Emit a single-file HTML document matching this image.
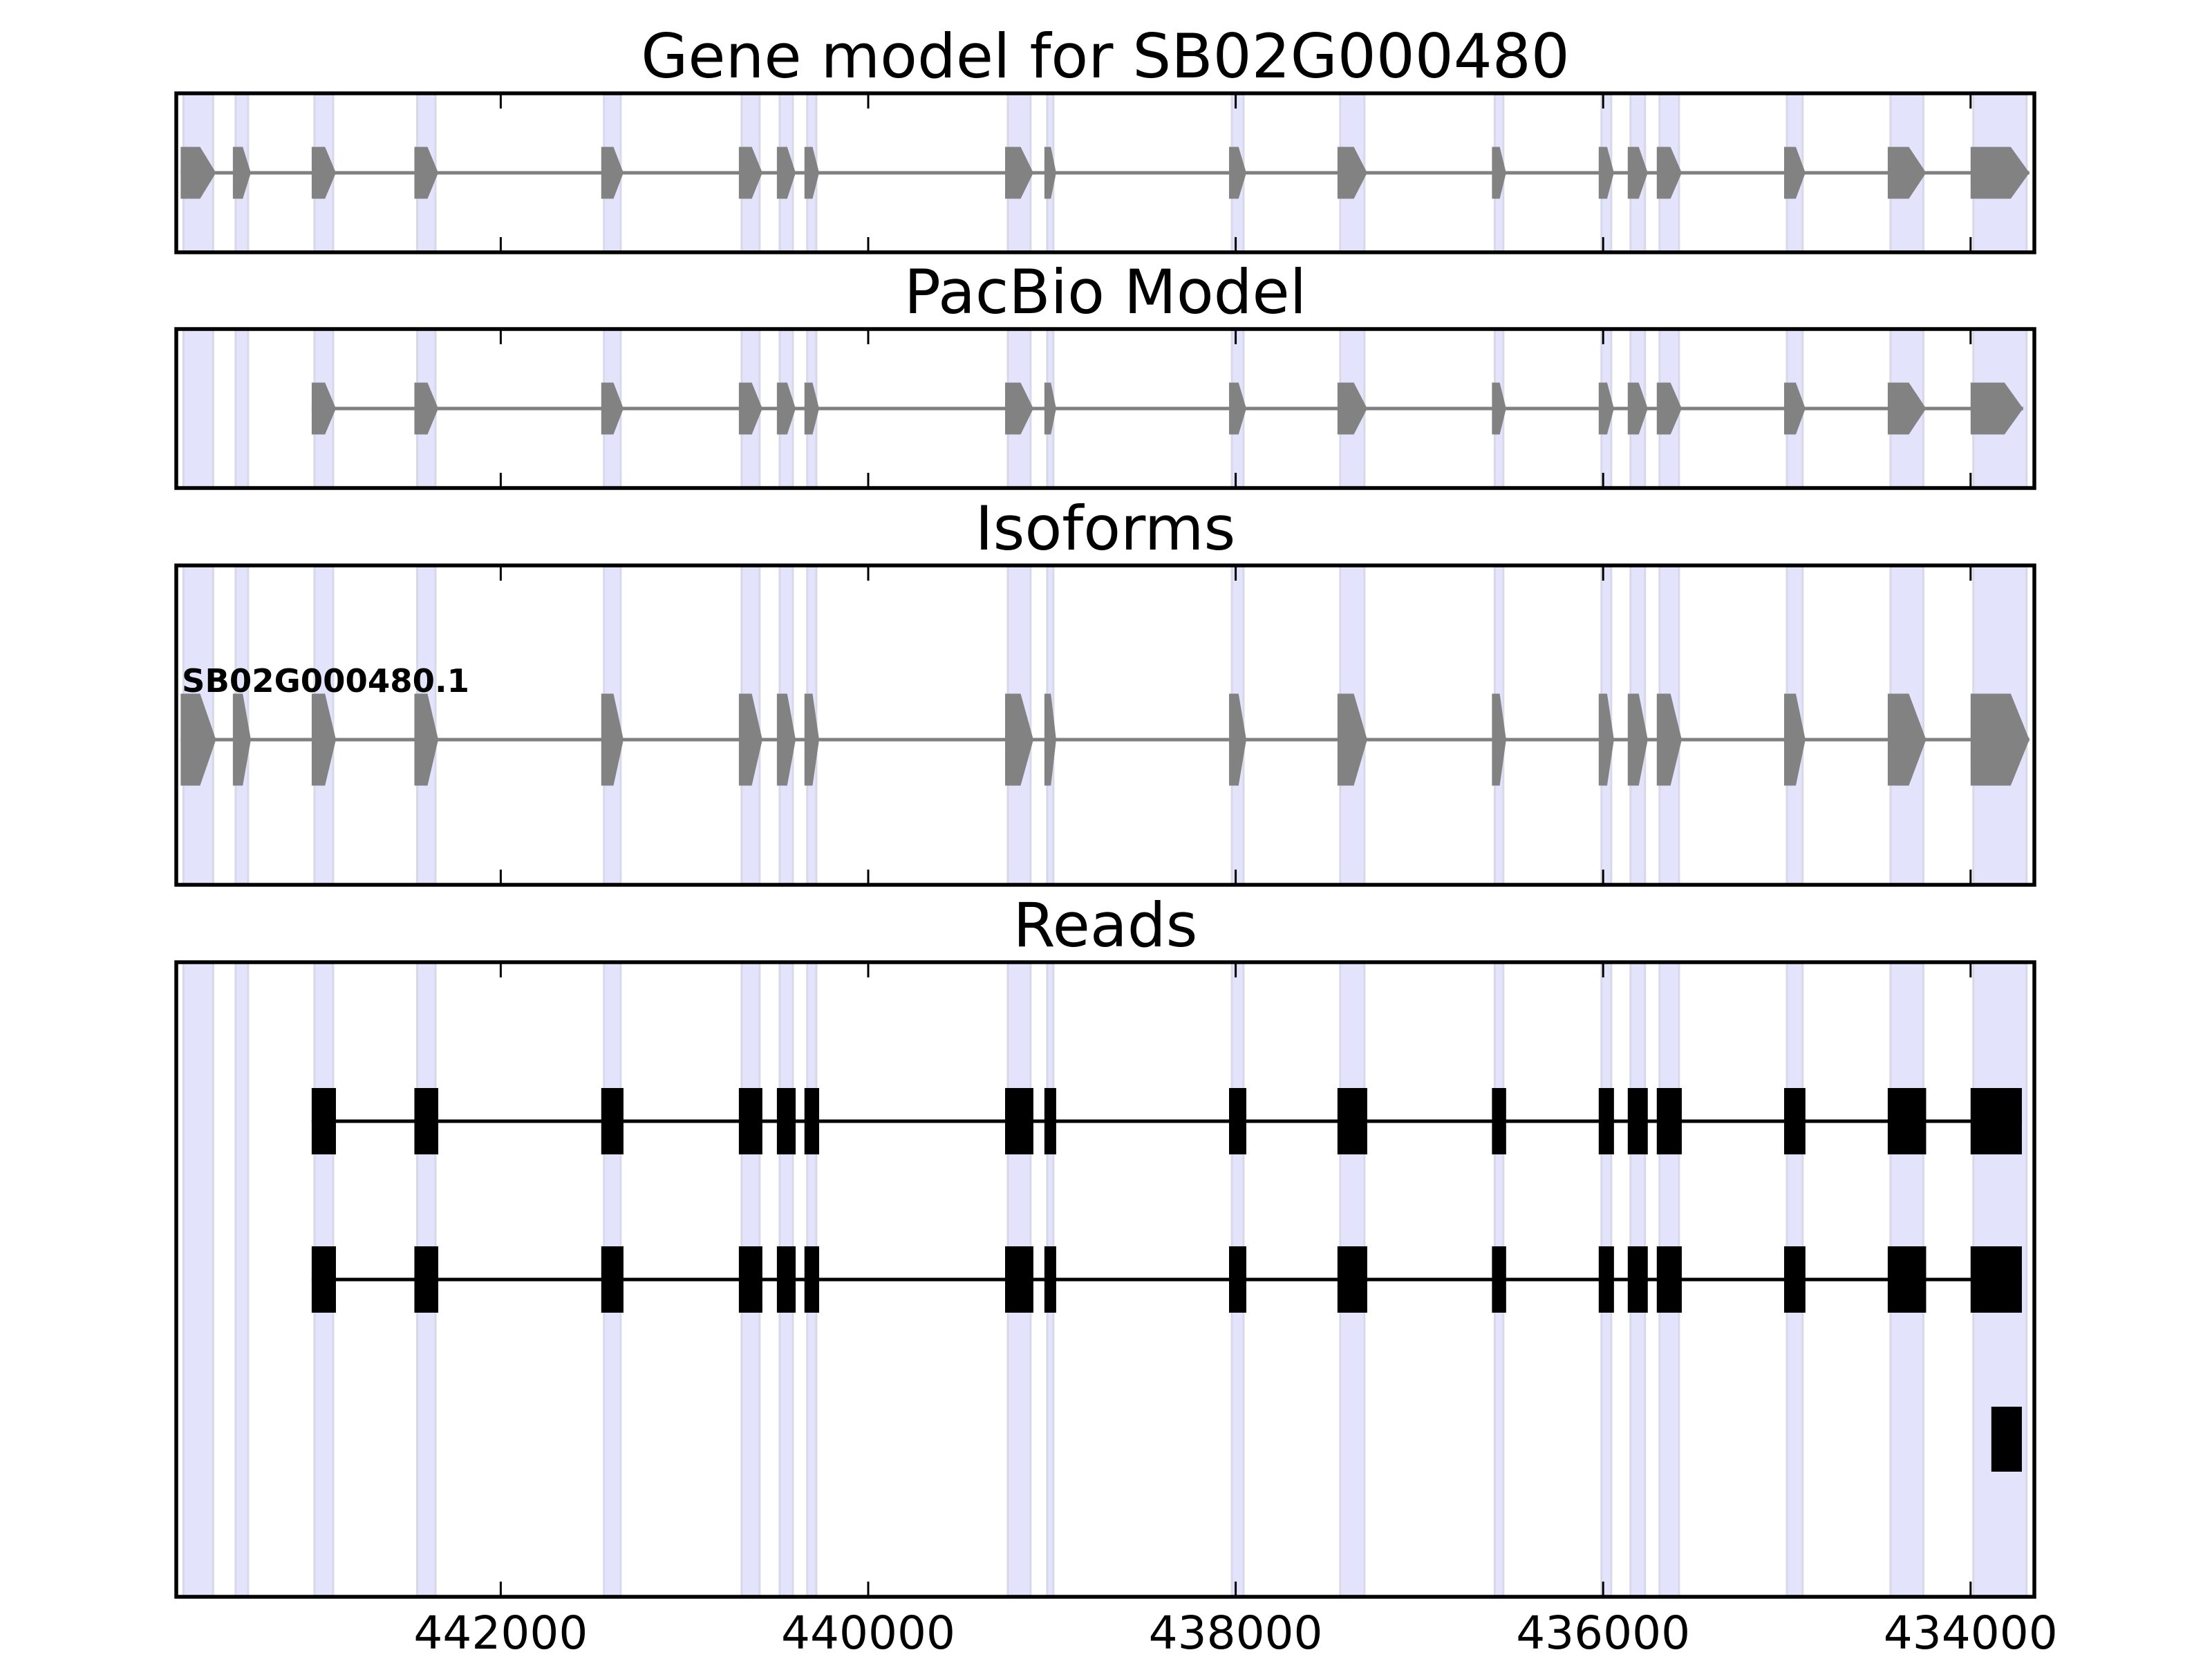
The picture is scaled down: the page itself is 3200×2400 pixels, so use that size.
<!DOCTYPE html>
<html><head><meta charset="utf-8"><style>
html,body{margin:0;padding:0;background:#fff;}
svg{display:block;}
text{font-family:"DejaVu Sans","Liberation Sans",sans-serif;}
</style></head><body>
<svg id="fig" xmlns="http://www.w3.org/2000/svg" width="3200" height="2400" viewBox="0 0 3200 2400">
<rect x="0" y="0" width="3200" height="2400" fill="#fff"/>
</svg>
<script>
// ---- data ----
const exonStarts = [443742,443458,443029,442470,441453,440704,440497,440347,439255,439041,438036,437446,436605,436024,435866,435708,435015,434451,434000];
const exonEnds   = [443550,443360,442897,442340,441332,440576,440395,440267,439101,438977,437942,437284,436528,435941,435757,435572,434899,434242,433680];
const pacbioExonIdx = [2,3,4,5,6,7,8,9,10,11,12,13,14,15,16,17,18];
const pacbioLastEnd = 433714;
const readRows = ["read-1","read-2"];
const readLastEnd = 433721;
const read3Block = [433887,433721];
const tickValues = [442000,440000,438000,436000,434000];
const tickLabels = ["442000","440000","438000","436000","434000"];
const panelTitles = ["Gene model for SB02G000480","PacBio Model","Isoforms","Reads"];
const isoformLabel = "SB02G000480.1";
const xDomain = [443766,433653];

// ---- layout ----
const NS = "http://www.w3.org/2000/svg";
const svg = document.getElementById('fig');
const L = 255, R = 2943;
const panels = [{t:135,b:365},{t:476,b:706},{t:818,b:1280},{t:1392,b:2310}];
function xs(g){ return L + (xDomain[0]-g)*(R-L)/(xDomain[0]-xDomain[1]); }
function mk(tag, attrs, parent){
  const e = document.createElementNS(NS, tag);
  for (const k in attrs) e.setAttribute(k, attrs[k]);
  (parent||svg).appendChild(e);
  return e;
}
function pent(x1, x2, cy, h, fill, parent){
  const w = x2-x1, tip = Math.min(0.45*w, 27);
  const pts = [[x1,cy-h/2],[x2-tip,cy-h/2],[x2,cy],[x2-tip,cy+h/2],[x1,cy+h/2]];
  return mk('polygon',{points:pts.map(p=>p.join(',')).join(' '),fill:fill},parent);
}

panels.forEach((p,pi)=>{
  const g = mk('g',{});
  
  
  for (let i=0;i<exonStarts.length;i++){
    const x1 = xs(exonStarts[i]), x2 = Math.min(xs(exonEnds[i]), R-6);
    const s = mk('rect',{x:x1+4,y:p.t,width:Math.max(2,x2-x1-8),height:p.b-p.t,fill:'#e3e3fb',stroke:'#d8d8ea','stroke-width':3},g);
    
    
  }
  const t = mk('text',{x:(L+R)/2,y:p.t-23,'font-size':88,'text-anchor':'middle',fill:'#000'},g);
  t.textContent = panelTitles[pi];
  
  
});

(function(){
  const p = panels[0], cy = (p.t+p.b)/2;
  const g = mk('g',{});
  
  
  mk('line',{x1:xs(exonStarts[0]),x2:xs(exonEnds[exonEnds.length-1]),y1:cy,y2:cy,stroke:'#808080','stroke-width':5},g);
  for (let i=0;i<exonStarts.length;i++){
    const e = pent(xs(exonStarts[i]), xs(exonEnds[i]), cy, 75, '#828282', g);
    
    
  }
})();
(function(){
  const p = panels[1], cy = (p.t+p.b)/2;
  const g = mk('g',{});
  
  
  const first = pacbioExonIdx[0];
  mk('line',{x1:xs(exonStarts[first]),x2:xs(pacbioLastEnd),y1:cy,y2:cy,stroke:'#808080','stroke-width':5},g);
  pacbioExonIdx.forEach((i,k)=>{
    const end = (k===pacbioExonIdx.length-1)?pacbioLastEnd:exonEnds[i];
    const e = pent(xs(exonStarts[i]), xs(end), cy, 75, '#828282', g);
    
    
  });
})();
(function(){
  const cy = 1070;
  const g = mk('g',{});
  
  
  mk('line',{x1:xs(exonStarts[0]),x2:xs(exonEnds[exonEnds.length-1]),y1:cy,y2:cy,stroke:'#808080','stroke-width':5},g);
  for (let i=0;i<exonStarts.length;i++){
    const e = pent(xs(exonStarts[i]), xs(exonEnds[i]), cy, 133, '#828282', g);
    
    
  }
  const t = mk('text',{x:263,y:1001,'font-size':46.5,'font-weight':'bold',fill:'#000'},g);
  t.textContent = isoformLabel;
  
  
})();
(function(){
  const rowY = [1622,1851];
  readRows.forEach((nm,r)=>{
    const g = mk('g',{});
    
    
    const cy = rowY[r];
    const first = pacbioExonIdx[0];
    mk('line',{x1:xs(exonStarts[first]),x2:xs(readLastEnd),y1:cy,y2:cy,stroke:'#000','stroke-width':5},g);
    pacbioExonIdx.forEach((i,k)=>{
      const end = (k===pacbioExonIdx.length-1)?readLastEnd:exonEnds[i];
      const x1 = xs(exonStarts[i]), x2 = xs(end);
      const e = mk('rect',{x:x1,y:cy-48,width:x2-x1,height:96,fill:'#000'},g);
      
      
    });
  });
  const x1 = xs(read3Block[0]), x2 = xs(read3Block[1]);
  const e = mk('rect',{x:x1,y:2035,width:x2-x1,height:94,fill:'#000'});
  
  
})();

panels.forEach((p,pi)=>{
  const f = mk('rect',{x:L,y:p.t,width:R-L,height:p.b-p.t,fill:'none',stroke:'#000','stroke-width':5.5});
  
  
  tickValues.forEach((v,k)=>{
    const x = xs(v);
    mk('line',{x1:x,x2:x,y1:p.t,y2:p.t+22,stroke:'#000','stroke-width':3});
    mk('line',{x1:x,x2:x,y1:p.b,y2:p.b-22,stroke:'#000','stroke-width':3});
    if (pi===3){
      const t = mk('text',{x:x,y:2385,'font-size':66,'text-anchor':'middle',fill:'#000'});
      t.textContent = tickLabels[k];
      
      
    }
  });
});
</script>
</body></html>
